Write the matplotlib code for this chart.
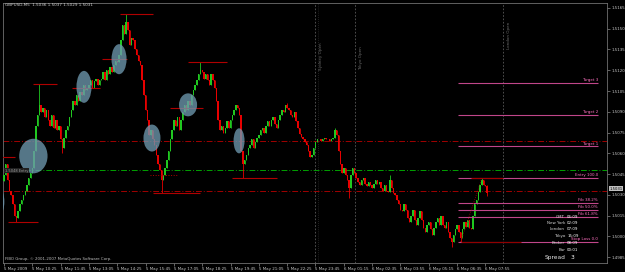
import matplotlib
matplotlib.use("Agg")
import matplotlib.pyplot as plt
from matplotlib.patches import Ellipse
import matplotlib.transforms as mtransforms
import numpy as np

# ---------------- data (GBPUSD M5) ----------------
closes = [
    1.5044, 1.5052, 1.5041, 1.5033, 1.5030, 1.5023, 1.5015, 1.5013, 1.5018, 1.5023,
    1.5026, 1.5030, 1.5033, 1.5037, 1.5042, 1.5046, 1.5049, 1.5062, 1.5080, 1.5088,
    1.5095, 1.5090, 1.5093, 1.5086, 1.5091, 1.5084, 1.5080, 1.5088, 1.5078, 1.5084,
    1.5077, 1.5080, 1.5070, 1.5064, 1.5071, 1.5077, 1.5080, 1.5086, 1.5091, 1.5098,
    1.5095, 1.5102, 1.5098, 1.5104, 1.5102, 1.5109, 1.5106, 1.5107, 1.5109, 1.5113,
    1.5107, 1.5112, 1.5114, 1.5109, 1.5113, 1.5114, 1.5119, 1.5113, 1.5120, 1.5117,
    1.5122, 1.5119, 1.5124, 1.5127, 1.5126, 1.5131, 1.5142, 1.5153, 1.5146, 1.5155,
    1.5149, 1.5138, 1.5143, 1.5142, 1.5135, 1.5131, 1.5127, 1.5124, 1.5113, 1.5102,
    1.5091, 1.5084, 1.5073, 1.5077, 1.5070, 1.5066, 1.5059, 1.5052, 1.5048, 1.5041,
    1.5044, 1.5049, 1.5055, 1.5062, 1.5070, 1.5077, 1.5084, 1.5080, 1.5086, 1.5077,
    1.5084, 1.5090, 1.5095, 1.5091, 1.5098, 1.5095, 1.5102, 1.5106, 1.5109, 1.5113,
    1.5117, 1.5120, 1.5119, 1.5114, 1.5117, 1.5113, 1.5109, 1.5117, 1.5113, 1.5107,
    1.5098, 1.5084, 1.5077, 1.5080, 1.5075, 1.5078, 1.5083, 1.5078, 1.5084, 1.5088,
    1.5091, 1.5095, 1.5093, 1.5088, 1.5062, 1.5052, 1.5055, 1.5059, 1.5064, 1.5066,
    1.5070, 1.5064, 1.5068, 1.5071, 1.5073, 1.5077, 1.5078, 1.5075, 1.5080, 1.5083,
    1.5080, 1.5084, 1.5086, 1.5081, 1.5078, 1.5084, 1.5088, 1.5091, 1.5090, 1.5095,
    1.5093, 1.5091, 1.5088, 1.5086, 1.5090, 1.5083, 1.5078, 1.5074, 1.5072, 1.5070,
    1.5068, 1.5066, 1.5062, 1.5057, 1.5059, 1.5064, 1.5068, 1.5070, 1.5070, 1.5069,
    1.5070, 1.5071, 1.5070, 1.5070, 1.5069, 1.5070, 1.5071, 1.5077, 1.5073, 1.5062,
    1.5052, 1.5046, 1.5049, 1.5044, 1.5041, 1.5035, 1.5044, 1.5049, 1.5046, 1.5042,
    1.5039, 1.5037, 1.5041, 1.5042, 1.5038, 1.5036, 1.5039, 1.5037, 1.5035, 1.5038,
    1.5041, 1.5038, 1.5039, 1.5035, 1.5033, 1.5037, 1.5033, 1.5032, 1.5041, 1.5035,
    1.5031, 1.5030, 1.5026, 1.5023, 1.5019, 1.5018, 1.5023, 1.5019, 1.5013, 1.5010,
    1.5015, 1.5019, 1.5012, 1.5008, 1.5013, 1.5018, 1.5012, 1.5006, 1.5003, 1.5008,
    1.5010, 1.5005, 1.5001, 1.5006, 1.5010, 1.5013, 1.5008, 1.5015, 1.5008, 1.5006,
    1.5010, 1.5003, 1.4999, 1.4996, 1.5001, 1.5005, 1.5008, 1.5003, 1.4999, 1.5005,
    1.5010, 1.5007, 1.5012, 1.5006, 1.5005, 1.5015, 1.5023, 1.5026, 1.5032, 1.5037,
    1.5041, 1.5037, 1.5036, 1.5031,
]
first_open = 1.5040
high_overrides = {20: 1.5110, 69: 1.5161, 111: 1.5126, 160: 1.5096, 187: 1.5078,
                  218: 1.5044, 270: 1.5042, 273: 1.5037}
low_overrides = {7: 1.5010, 33: 1.5060, 89: 1.5031, 135: 1.5042, 195: 1.5028,
                 253: 1.4992, 258: 1.4996, 273: 1.5029}

tick_idx = list(range(0, 273, 16))
tick_labels = ["5 May 2009", "5 May 10:25", "5 May 11:45", "5 May 13:05", "5 May 14:25",
               "5 May 15:45", "5 May 17:05", "5 May 18:25", "5 May 19:45", "5 May 21:05",
               "5 May 22:25", "5 May 23:45", "6 May 01:15", "6 May 02:35", "6 May 03:55",
               "6 May 05:15", "6 May 06:35", "6 May 07:55"]
price_ticks = [1.4985, 1.5000, 1.5015, 1.5030, 1.5045, 1.5060, 1.5075, 1.5090,
               1.5105, 1.5120, 1.5135, 1.5150, 1.5165]

# trade levels
level_names = ["Target 3", "Target 2", "Target 1", "Entry 100.0", "Fib 38.2%",
               "Fib 50.0%", "Fib 61.8%", "Stop Loss 0.0"]
level_prices = [1.5111, 1.5088, 1.5065, 1.5042, 1.5024, 1.5019, 1.5014, 1.4996]

# swing high/low markers: (start bar, end bar, price)
swing_start = [2.3, 16.4, 38.4, 55.4, 65.5, 84.2, 93.8, 104.0, 128.8, -1.0]
swing_end = [19.2, 30.0, 54.2, 69.5, 84.2, 110.7, 112.4, 126.0, 154.2, 6.2]
swing_price = [1.5010, 1.5110, 1.5107, 1.5128, 1.5161, 1.5031, 1.5093, 1.5126, 1.5042, 1.5057]

# highlighted zones: (bar, price, width in bars, height in price)
zone_x = [16.6, 45.2, 65.0, 83.6, 104.0, 132.8, -2.3]
zone_y = [1.5058, 1.5108, 1.5128, 1.5071, 1.5095, 1.5069, 1.5025]
zone_w = [16.0, 8.5, 8.5, 9.6, 10.2, 6.2, 5.0]
zone_h = [0.00250, 0.00231, 0.00217, 0.00195, 0.00166, 0.00181, 0.00180]

sessions = ["Sydney Open", "Tokyo Open", "London Open"]
session_bar = [176.0, 198.3, 282.0]
session_label_y = [1.5120, 1.5120, 1.5135]

info_labels = ["GMT", "New York", "London", "Tokyo", "Broker", "Bar"]
info_values = ["06:09", "02:09", "07:09", "15:09", "08:09", "00:01"]
info_prices = [1.50138, 1.50095, 1.50052, 1.50004, 1.49955, 1.49898]

# ---------------- figure ----------------
W, H = 625, 272
fig = plt.figure(figsize=(W / 100, H / 100), dpi=100, facecolor="black")
ax = fig.add_axes([3 / W, 9 / H, 604 / W, 260 / H], facecolor="black")
ax.set_xlim(-0.565, 340.7)
ax.set_ylim(1.49807, 1.51686)

n = len(closes)
xs = np.arange(n)
opens = [first_open] + closes[:-1]
highs = [high_overrides.get(i, max(o, c)) for i, (o, c) in enumerate(zip(opens, closes))]
lows = [low_overrides.get(i, min(o, c)) for i, (o, c) in enumerate(zip(opens, closes))]

# full width reference lines
ax.axhline(1.5048, color="#00a000", lw=0.7, ls=(0, (6, 2, 1, 2)), zorder=1)
ax.axhline(1.5069, color="#a00000", lw=0.7, ls=(0, (6, 2, 1, 2)), zorder=1)
ax.axhline(1.5033, color="#a00000", lw=0.7, ls=(0, (6, 2, 1, 2)), zorder=1)

# session lines
for sx in session_bar:
    ax.axvline(sx, color="#5a5a5a", lw=0.6, ls=(0, (2, 2)), zorder=1)
ax.axvline(177.6, color="#3a3a3a", lw=0.5, ls=(0, (1, 2)), zorder=1)

# candles
for i in range(n):
    o, c = opens[i], closes[i]
    col = "#20c820" if c >= o else "#e80000"
    ax.vlines(xs[i], lows[i], highs[i], color=col, lw=0.6, zorder=3)
    ax.bar(xs[i], max(abs(c - o), 0.00004), bottom=min(o, c), width=0.8,
           color=col, linewidth=0, zorder=3)

# swing markers
for s, e, p in zip(swing_start, swing_end, swing_price):
    ax.hlines(p, s, e, color="#b00000", lw=0.8, zorder=4)
ax.hlines(1.5044, 82.5, 97.7, color="#b00000", lw=0.7, ls=":", zorder=4)

# zones
for zx, zy, zw, zh in zip(zone_x, zone_y, zone_w, zone_h):
    ax.add_patch(Ellipse((zx, zy), zw, zh, facecolor="#6e98ae", edgecolor="none",
                         alpha=0.78, zorder=5))

# trade levels
for name, p in zip(level_names, level_prices):
    ax.hlines(p, 256.5, 335.6, color="#c0468a", lw=0.8, zorder=6)
    ax.text(335.6, p + 0.00005, name, color="#ff70c0", fontsize=2.9,
            ha="right", va="bottom", zorder=7)
ax.hlines(1.5042, 264, 282, color="#a00000", lw=0.8, zorder=6)
ax.hlines(1.4996, 258, 292, color="#900000", lw=0.8, zorder=6)
ax.plot([258, 270], [1.4996, 1.5042], color="#b00000", lw=0.6, ls=":", zorder=6)

# session labels
for name, sx, sy in zip(sessions, session_bar, session_label_y):
    ax.text(sx + 3.3, sy, name, rotation=90, color="#6a6a6a", fontsize=3.0,
            ha="center", va="bottom", zorder=2)

# info panel
for lab, val, p in zip(info_labels, info_values, info_prices):
    ax.text(317.0, p, lab, color="#d8d8d8", fontsize=2.9, ha="right", va="center", zorder=8)
    ax.text(318.2, p, val, color="#ffffff", fontsize=2.9, ha="left", va="center", zorder=8)
ax.text(317.0, 1.49846, "Spread", color="#e8e8e8", fontsize=4.2, ha="right", va="center", zorder=8)
ax.text(320.0, 1.49846, "3", color="#ffffff", fontsize=4.2, ha="left", va="center", zorder=8)

# small label at left
ax.text(0.5, 1.50475, "1.5048 Entry", color="#9a9a9a", fontsize=2.6, ha="left",
        va="center", zorder=8,
        bbox=dict(facecolor="#202020", edgecolor="none", pad=0.3))

# axes styling
for sp in ax.spines.values():
    sp.set_color("#707070")
    sp.set_linewidth(0.6)
ax.yaxis.tick_right()
ax.set_yticks(price_ticks)
ax.set_yticklabels([f"{p:.4f}" for p in price_ticks])
ax.tick_params(axis="y", colors="#8a8a8a", labelcolor="#c8c8c8", labelsize=2.9,
               length=2, width=0.5, pad=1.5)
ax.set_xticks(tick_idx)
ax.set_xticklabels(tick_labels, ha="left")
ax.tick_params(axis="x", colors="#8a8a8a", labelcolor="#c8c8c8", labelsize=2.9,
               length=2, width=0.5, pad=1.2)

# current price box (sits just above the 1.5030 scale label)
trans = mtransforms.blended_transform_factory(ax.transAxes, ax.transData)
ax.text(1.004, 1.50345, f"{closes[-1]:.4f}", transform=trans, color="black",
        fontsize=2.7, ha="left", va="center", clip_on=False, zorder=9,
        bbox=dict(facecolor="#c0c0c0", edgecolor="none", pad=0.25))

# title and copyright
fig.text(5 / W, 1 - 3.5 / H, "GBPUSD,M5  1.5036 1.5037 1.5029 1.5031", color="#d0d0d0",
         fontsize=3.0, ha="left", va="top")
ax.text(0.003, 0.006, "FIBO Group, \u00a9 2001-2007 MetaQuotes Software Corp.",
        transform=ax.transAxes, color="#bdbdbd", fontsize=2.8, ha="left", va="bottom")

fig.savefig("out.png", dpi=100, facecolor="black")
